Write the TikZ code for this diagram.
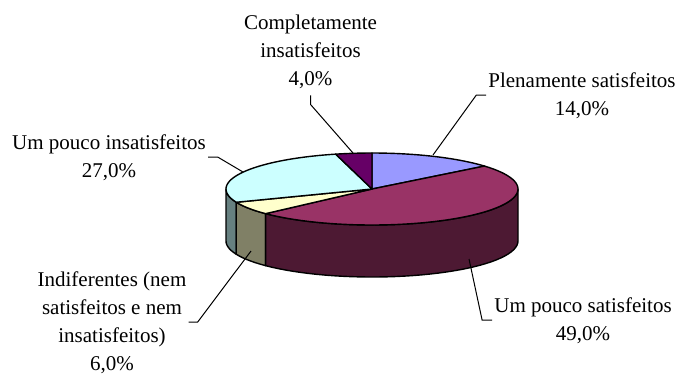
\documentclass[tikz,border=0pt]{standalone}
\usepackage{fontspec}
\setmainfont{Liberation Serif}
\usepackage{xcolor}
\usepackage{tikz}
\usetikzlibrary{positioning}

\definecolor{plenfill}{HTML}{9999FF}
\definecolor{satfill}{HTML}{993366}
\definecolor{indfill}{HTML}{FFFFCC}
\definecolor{insatfill}{HTML}{CCFFFF}
\definecolor{complfill}{HTML}{660066}
\definecolor{satside}{HTML}{4D1933}
\definecolor{indside}{HTML}{808066}
\definecolor{insatside}{HTML}{668080}

\begin{document}
\begin{tikzpicture}[
    x=1pt, y=-1pt,
    slice/.style={
        draw=black,
        line width=1.4pt,
        line join=round
    },
    lbl/.style={
        align=center,
        anchor=base,
        inner sep=2pt,
        font=\fontsize{21}{28}\selectfont
    },
    leader/.style={draw=black, line width=1pt}
]

\useasboundingbox (0,0) rectangle (684,373);

\coordinate (c) at (372,189);

\filldraw[slice, fill=insatside] plot[domain=-180:-158.4, samples=8, variable=\t] ({372+146*cos(\t)},{189-36*sin(\t)}) -- plot[domain=-158.4:-180, samples=8, variable=\t] ({372+146*cos(\t)},{241-36*sin(\t)}) -- cycle;

\filldraw[slice, fill=indside] plot[domain=-158.4:-136.8, samples=8, variable=\t] ({372+146*cos(\t)},{189-36*sin(\t)}) -- plot[domain=-136.8:-158.4, samples=8, variable=\t] ({372+146*cos(\t)},{241-36*sin(\t)}) -- cycle;

\filldraw[slice, fill=satside] plot[domain=-136.8:0, samples=40, variable=\t] ({372+146*cos(\t)},{189-36*sin(\t)}) -- plot[domain=0:-136.8, samples=40, variable=\t] ({372+146*cos(\t)},{241-36*sin(\t)}) -- cycle;

\filldraw[slice, fill=plenfill] (c) -- plot[domain=90:39.6, samples=20, variable=\t] ({372+146*cos(\t)},{189-36*sin(\t)}) -- cycle;

\filldraw[slice, fill=satfill] (c) -- plot[domain=39.6:-136.8, samples=60, variable=\t] ({372+146*cos(\t)},{189-36*sin(\t)}) -- cycle;

\filldraw[slice, fill=indfill] (c) -- plot[domain=-136.8:-158.4, samples=10, variable=\t] ({372+146*cos(\t)},{189-36*sin(\t)}) -- cycle;

\filldraw[slice, fill=insatfill] (c) -- plot[domain=-158.4:-255.6, samples=40, variable=\t] ({372+146*cos(\t)},{189-36*sin(\t)}) -- cycle;

\filldraw[slice, fill=complfill] (c) -- plot[domain=104.4:90, samples=8, variable=\t] ({372+146*cos(\t)},{189-36*sin(\t)}) -- cycle;

\coordinate (pcompl) at (353,153);
\coordinate (pplen) at (433,155);
\coordinate (pinsat) at (243,172);
\coordinate (pindif) at (251,251);
\coordinate (psat) at (469,259);

\node[lbl] (compl) at (310.5,85) {Completamente\\insatisfeitos\\4,0\%};
\node[lbl] (plen) at (582,115) {Plenamente satisfeitos\\14,0\%};
\node[lbl] (insat) at (109,177) {Um pouco insatisfeitos\\27,0\%};
\node[lbl] (indif) at (112,370) {Indiferentes (nem\\satisfeitos e nem\\insatisfeitos)\\6,0\%};
\node[lbl] (sat) at (583,340) {Um pouco satisfeitos\\49,0\%};

\draw[leader] ([yshift=-5pt]compl.south) -- ++(0,9) -- (pcompl);
\draw[leader] (plen.west) -- ++(-10,0) -- (pplen);
\draw[leader] (insat.east) -- ++(10,0) -- (pinsat);
\draw[leader] (indif.east) -- ++(9,0) -- (pindif);
\draw[leader] (sat.west) -- ++(-10,0) -- (psat);

\end{tikzpicture}
\end{document}
